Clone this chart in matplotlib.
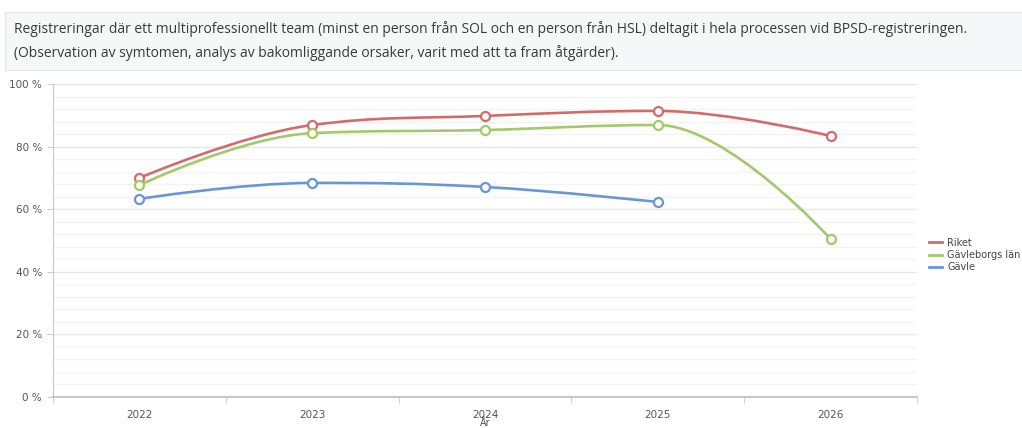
import numpy as np
import matplotlib
matplotlib.use("Agg")
from matplotlib import pyplot as plt
from matplotlib.path import Path
from matplotlib.patches import PathPatch, Rectangle
from matplotlib.lines import Line2D

years = ["2022", "2023", "2024", "2025", "2026"]
riket = [70.0, 86.9, 89.8, 91.4, 83.4]
gavleborg = [67.7, 84.3, 85.3, 86.9, 50.5]
gavle = [63.3, 68.4, 67.1, 62.3]

series_names = ["Riket", "Gävleborgs län", "Gävle"]
colors = ["#d36b6b", "#a2c96a", "#6a96d8"]

title = ("Registreringar där ett multiprofessionellt team (minst en person från SOL och en person från HSL) "
         "deltagit i hela processen vid BPSD-registreringen.\n"
         "(Observation av symtomen, analys av bakomliggande orsaker, varit med att ta fram åtgärder).")


def spline_path(xs, ys, smoothing=1.5):
    # highcharts-like spline: cubic bezier with control points from neighbours
    n = len(xs)
    left = [None] * n
    right = [None] * n
    denom = smoothing + 1
    for i in range(1, n - 1):
        px, py = xs[i], ys[i]
        lx, ly = xs[i - 1], ys[i - 1]
        nx, ny = xs[i + 1], ys[i + 1]
        lcx = (smoothing * px + lx) / denom
        lcy = (smoothing * py + ly) / denom
        rcx = (smoothing * px + nx) / denom
        rcy = (smoothing * py + ny) / denom
        if rcx != lcx:
            corr = (rcy - lcy) * (rcx - px) / (rcx - lcx) + py - rcy
            lcy += corr
            rcy += corr
        if lcy > ly and lcy > py:
            lcy = max(ly, py)
            rcy = 2 * py - lcy
        elif lcy < ly and lcy < py:
            lcy = min(ly, py)
            rcy = 2 * py - lcy
        if rcy > ny and rcy > py:
            rcy = max(ny, py)
            lcy = 2 * py - rcy
        elif rcy < ny and rcy < py:
            rcy = min(ny, py)
            lcy = 2 * py - rcy
        left[i] = (lcx, lcy)
        right[i] = (rcx, rcy)
    verts = [(xs[0], ys[0])]
    codes = [Path.MOVETO]
    for i in range(1, n):
        c1 = right[i - 1] if right[i - 1] is not None else (xs[i - 1], ys[i - 1])
        c2 = left[i] if left[i] is not None else (xs[i], ys[i])
        verts += [c1, c2, (xs[i], ys[i])]
        codes += [Path.CURVE4] * 3
    return Path(verts, codes)


fig = plt.figure(figsize=(10.22, 4.28), dpi=100)
W, H = 1022, 428

# title box
fig.patches.append(Rectangle((5 / W, 1 - 70 / H), 1.2, 58 / H, transform=fig.transFigure,
                             facecolor="#f6f7f8", edgecolor="#e2e4e6", lw=0.8))
fig.text(14 / W, 1 - 41 / H, title, fontsize=10, color="#3a3a3a", va="center",
         linespacing=1.7, family="Open Sans")

ax = fig.add_axes([53 / W, 31 / H, 864 / W, 313 / H])
x = np.arange(len(years))

for vals, name, col in zip([riket, gavleborg, gavle], series_names, colors):
    xs = x[:len(vals)]
    ax.add_patch(PathPatch(spline_path(list(xs), list(vals)), facecolor="none",
                           edgecolor=col, lw=1.9, zorder=3))
    ax.plot(xs, vals, ls="none", marker="o", ms=6.5, mfc="white", mec=col, mew=1.6, zorder=4)

ax.set_xlim(-0.5, len(years) - 0.5)
ax.set_ylim(0, 100)
ax.set_xticks(x)
ax.set_xticklabels(years)
ax.set_xticks(np.arange(-0.5, len(years), 1), minor=True)
ax.set_yticks(np.arange(0, 101, 20))
ax.set_yticklabels([f"{v} %" for v in range(0, 101, 20)])
ax.set_yticks(np.arange(0, 101, 4), minor=True)

ax.grid(axis="y", which="major", color="#e6e6e6", lw=1)
ax.grid(axis="y", which="minor", color="#f3f3f3", lw=1)
ax.set_axisbelow(True)

ax.tick_params(axis="x", which="major", length=0, pad=9, labelsize=7.5, labelcolor="#555555")
ax.tick_params(axis="x", which="minor", length=4, color="#cccccc")
ax.tick_params(axis="y", which="major", length=4, color="#cccccc", labelsize=7.5,
               labelcolor="#555555", pad=4)
ax.tick_params(axis="y", which="minor", length=0)

for s in ["top", "right"]:
    ax.spines[s].set_visible(False)
ax.spines["left"].set_color("#c8c8c8")
ax.spines["bottom"].set_color("#c8c8c8")
ax.spines["bottom"].set_linewidth(1.5)

ax.set_xlabel("År", fontsize=7, color="#555555")
ax.xaxis.set_label_coords(0.5, -0.068)
ax.xaxis.label.set_va("top")

handles = [Line2D([], [], color=c, lw=2) for c in colors]
fig.legend(handles, series_names, loc="center left", bbox_to_anchor=(920 / W, 1 - 255 / H),
           frameon=False, fontsize=7, handlelength=1.4, handletextpad=0.5,
           labelspacing=0.25, labelcolor="#444444")

fig.savefig("out.png", dpi=100)
